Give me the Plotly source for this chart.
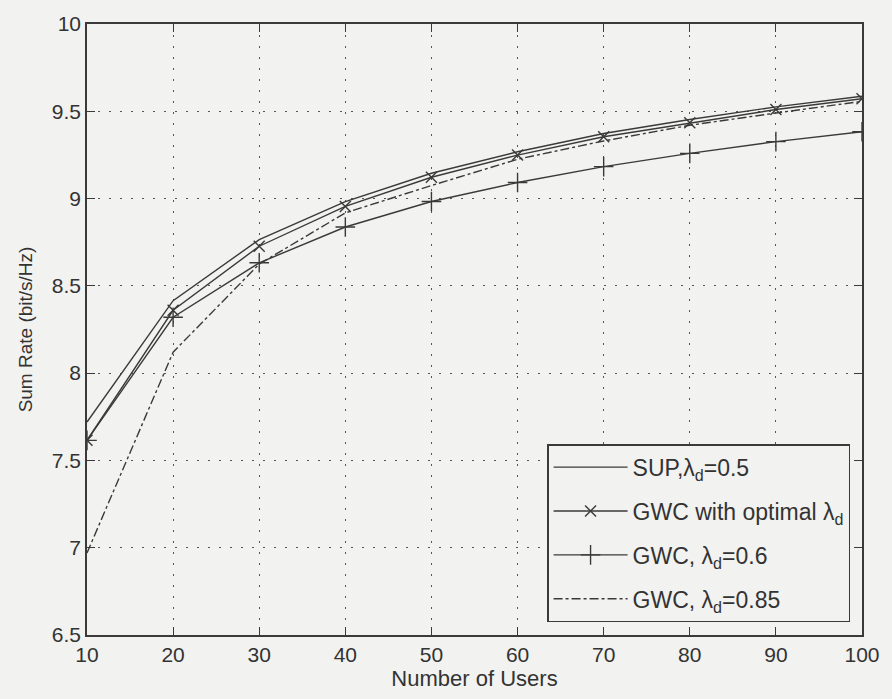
import plotly.graph_objects as go

users = [10, 20, 30, 40, 50, 60, 70, 80, 90, 100]
sup_05 = [7.72, 8.415, 8.765, 8.983, 9.145, 9.268, 9.373, 9.453, 9.525, 9.586]
gwc_opt = [7.615, 8.36, 8.727, 8.955, 9.122, 9.249, 9.354, 9.434, 9.51, 9.572]
gwc_06 = [7.615, 8.32, 8.632, 8.837, 8.983, 9.092, 9.183, 9.259, 9.326, 9.383]
gwc_085 = [6.97, 8.12, 8.625, 8.918, 9.075, 9.225, 9.33, 9.42, 9.49, 9.557]

x_ticks = [10, 20, 30, 40, 50, 60, 70, 80, 90, 100]
y_ticks = [6.5, 7, 7.5, 8, 8.5, 9, 9.5, 10]

names = ["SUP,λ<sub>d</sub>=0.5", "GWC with optimal λ<sub>d</sub>",
         "GWC, λ<sub>d</sub>=0.6", "GWC, λ<sub>d</sub>=0.85"]

ink = "#3a3a3a"
txt = "#333333"
bg = "#f2f2f0"
font = "Liberation Sans, Arial, sans-serif"

fig = go.Figure()
fig.add_trace(go.Scatter(x=users, y=sup_05, mode="lines", name=names[0], legendgroup="a",
                         line=dict(color=ink, width=1.4)))
fig.add_trace(go.Scatter(x=users, y=gwc_opt, mode="lines+markers", name=names[1], legendgroup="b",
                         line=dict(color=ink, width=1.4),
                         marker=dict(symbol="x-thin", size=11, line=dict(color=ink, width=1.4))))
fig.add_trace(go.Scatter(x=users, y=gwc_06, mode="lines+markers", name=names[2], legendgroup="c",
                         line=dict(color=ink, width=1.4),
                         marker=dict(symbol="cross-thin", size=14, line=dict(color=ink, width=1.4))))
fig.add_trace(go.Scatter(x=users, y=gwc_085, mode="lines", name=names[3], legendgroup="d",
                         line=dict(color=ink, width=1.4, dash="dashdot")))

axis_common = dict(showline=True, linecolor=ink, linewidth=1.5, mirror="ticks",
                   ticks="inside", ticklen=8, tickcolor=ink, tickwidth=1.2,
                   showgrid=True, gridcolor="#555555", gridwidth=1, griddash="2px,9px",
                   zeroline=False, tickfont=dict(family=font, size=21, color=txt))

fig.update_xaxes(range=[10, 100], tickvals=x_ticks, ticktext=[str(v) for v in x_ticks],
                 title_text="Number of Users", title_standoff=0,
                 title_font=dict(family=font, size=22, color=txt), **axis_common)
fig.update_yaxes(range=[6.5, 10], tickvals=y_ticks, ticktext=[f"{v:g}" for v in y_ticks],
                 title_text="Sum Rate (bit/s/Hz)", title_standoff=14,
                 title_font=dict(family=font, size=19, color=txt), **axis_common)

fig.update_layout(
    width=892, height=699,
    margin=dict(l=87, r=25, t=20, b=64),
    paper_bgcolor=bg, plot_bgcolor=bg,
    font=dict(family=font, size=21, color=txt),
    showlegend=True,
    legend=dict(x=0.9846, y=0.021, xanchor="right", yanchor="bottom",
                bgcolor=bg, bordercolor=ink, borderwidth=1.5,
                font=dict(family=font, size=23, color=txt),
                tracegroupgap=11, itemwidth=74),
)

fig.write_html("out.html")
